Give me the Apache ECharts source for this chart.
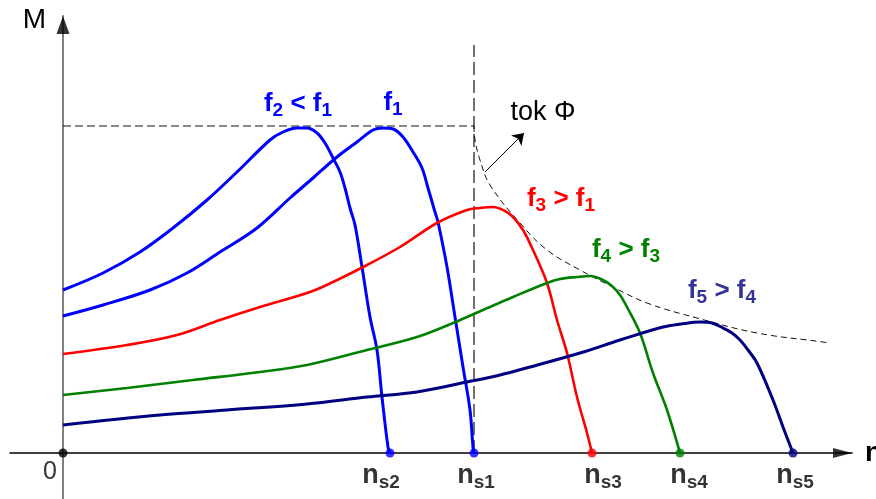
<!DOCTYPE html>
<html>
<head>
<meta charset="utf-8">
<script src="https://cdn.jsdelivr.net/npm/echarts@6/dist/echarts.min.js"></script>
<style>
  html, body { margin: 0; padding: 0; background: #fff; }
  #chart { width: 876px; height: 499px; }
</style>
</head>
<body>
<div id="chart"></div>
<script>
// Torque M versus speed n of an induction motor for several supply frequencies.
// Units are arbitrary; n along x, M along y.

// synchronous speeds: ns2, ns1, ns3, ns4, ns5
const nsValues = [327, 411, 529, 617, 730];
const nsSubs = ['s2', 's1', 's3', 's4', 's5'];
// where each caption sits on the speed axis ("0" first, then the n_s names)
const captionAt = [-13, 318, 413, 540, 626, 732];

const curveF2 = [[0,163],[40,180],[77,201],[110,225],[144,253],[174,281],[207,313],[220,321],[234,325],[244,325],[254,320],[262,310],[270,295],[277,281],[282,265],[287,245],[292,228],[299,186],[307,136],[314,103],[319,56],[325,6],[327,0]];
const curveF1 = [[0,137],[40,148],[87,163],[124,180],[157,201],[194,225],[227,255],[250,275],[274,296],[294,311],[310,323],[320,325],[330,324],[340,316],[350,301],[359,285],[365,265],[372,241],[375,231],[384,186],[392,136],[400,86],[407,43],[410,6],[411,0]];
const curveF3 = [[0,99],[64,108],[114,118],[157,133],[197,146],[247,161],[270,171],[304,188],[337,206],[374,230],[404,243],[417,245],[430,246],[442,242],[450,236],[460,223],[470,203],[484,170],[494,133],[504,100],[514,56],[524,20],[529,0]];
const curveF4 = [[0,58],[64,65],[130,73],[197,81],[244,88],[304,103],[354,116],[390,130],[420,143],[450,156],[484,170],[497,174],[514,176],[527,177],[540,173],[550,166],[557,158],[564,146],[577,120],[590,80],[604,43],[617,0]];
const curveF5 = [[0,28],[97,38],[164,43],[244,49],[304,56],[354,61],[404,71],[437,78],[467,86],[517,100],[557,113],[600,126],[618,129],[637,131],[649,130],[660,125],[669,120],[677,113],[685,103],[694,90],[710,53],[720,26],[730,0]];

// constant-flux torque limit above ns1 (field weakening)
const fluxLimit = [[411,327],[412,313],[417,293],[427,268],[457,230],[484,203],[517,183],[550,166],[584,150],[634,135],[694,120],[760,111],[765,110]];
const peakTorque = 327;
const syncLineTop = 408;
const fluxArrow = [[422,281],[461,320]];

const FONT = '"Liberation Sans", Arial, Helvetica, sans-serif';
const BLUE = '#0000ff', RED = '#ff0000', GREEN = '#008000', NAVY = '#000080', SLATE = '#333399';

function subRich(color, big, small, drop) {
  return {
    b: { fontFamily: FONT, fontWeight: 'bold', fontSize: big, color: color },
    s: { fontFamily: FONT, fontWeight: 'bold', fontSize: small, color: color, padding: [drop, 0, 0, 0] }
  };
}

function curve(name, data, color, width, text, offset) {
  return {
    name: name,
    type: 'line',
    data: data,
    smooth: 0.35,
    showSymbol: false,
    symbol: 'none',
    lineStyle: { color: color, width: width },
    z: 3,
    markPoint: {
      symbol: 'circle',
      symbolSize: 0,
      silent: true,
      data: [{ type: 'max', valueDim: 'y' }],
      label: {
        show: true,
        position: 'inside',
        offset: offset,
        formatter: text,
        rich: subRich(color === NAVY ? SLATE : color, 26, 19, 13)
      }
    }
  };
}

const chart = echarts.init(document.getElementById('chart'), null, { renderer: 'canvas' });

chart.setOption({
  animation: false,
  backgroundColor: '#fff',
  grid: { left: 10, right: 24, top: 16, bottom: 0, containLabel: false, outerBoundsMode: 'none' },
  xAxis: {
    type: 'value',
    min: -53,
    max: 789,
    axisLine: { onZero: true, lineStyle: { color: '#000', width: 1.5 } },
    axisTick: { show: false },
    splitLine: { show: false },
    axisLabel: { show: false },
    name: 'n',
    nameLocation: 'end',
    nameGap: 13,
    nameTextStyle: { fontFamily: FONT, fontWeight: 'bold', fontSize: 28, color: '#000', align: 'left', verticalAlign: 'middle' }
  },
  yAxis: {
    type: 'value',
    min: -46,
    max: 437,
    axisLine: { onZero: true, lineStyle: { color: '#808080', width: 2 } },
    axisTick: { show: false },
    axisLabel: { show: false },
    splitLine: { show: false },
    name: 'M',
    nameLocation: 'end',
    nameGap: -4,
    nameTextStyle: { fontFamily: FONT, fontSize: 28, color: '#000', align: 'right', verticalAlign: 'middle', padding: [0, 17, 0, 0] }
  },
  series: [
    {
      name: 'peak level',
      type: 'line',
      data: [[0, peakTorque], [nsValues[1], peakTorque]],
      symbol: 'none',
      lineStyle: { color: '#111', width: 1, type: [8, 4] },
      z: 1
    },
    {
      name: 'ns1 line',
      type: 'line',
      data: [[nsValues[1], 0], [nsValues[1], syncLineTop]],
      symbol: 'none',
      lineStyle: { color: '#111', width: 1.2, type: [13, 5] },
      z: 1
    },
    {
      name: 'flux limit',
      type: 'line',
      data: fluxLimit,
      smooth: 0.4,
      symbol: 'none',
      lineStyle: { color: '#111', width: 1, type: [6, 4] },
      z: 1,
      markLine: {
        silent: true,
        symbol: ['none', 'arrow'],
        symbolSize: 11,
        lineStyle: { color: '#000', width: 1, type: 'solid' },
        label: { show: false },
        data: [[{ coord: fluxArrow[0] }, { coord: fluxArrow[1] }]]
      },
      markPoint: {
        symbol: 'circle',
        symbolSize: 0,
        silent: true,
        data: [{ coord: fluxArrow[1] }],
        label: {
          show: true,
          position: 'inside',
          offset: [19, -20],
          formatter: 'tok \u03A6',
          fontFamily: FONT,
          fontSize: 27,
          color: '#000'
        }
      }
    },
    curve('f2', curveF2, BLUE, 3, '{b|f}{s|2}{b| < f}{s|1}', [1, -24]),
    curve('f1', curveF1, BLUE, 3, '{b|f}{s|1}', [10, -25]),
    curve('f3', curveF3, RED, 2.6, '{b|f}{s|3}{b| > f}{s|1}', [68, -8]),
    curve('f4', curveF4, GREEN, 2.6, '{b|f}{s|4}{b| > f}{s|3}', [36, -26]),
    curve('f5', curveF5, NAVY, 3, '{b|f}{s|5}{b| > f}{s|4}', [22, -31]),
    {
      name: 'synchronous points',
      type: 'scatter',
      symbol: 'circle',
      symbolSize: 9,
      z: 5,
      data: nsValues.map(function (v, i) {
        const c = [BLUE, BLUE, RED, GREEN, NAVY][i];
        return { value: [v, 0], itemStyle: { color: c } };
      })
    },
    {
      name: 'origin',
      type: 'scatter',
      symbol: 'circle',
      symbolSize: 9,
      z: 5,
      itemStyle: { color: '#000' },
      data: [[0, 0]]
    },
    {
      name: 'speed captions',
      type: 'scatter',
      symbolSize: 0,
      silent: true,
      z: 5,
      data: captionAt.map(function (x) { return [x, 0]; }),
      label: {
        show: true,
        position: 'bottom',
        distance: 7,
        formatter: function (p) {
          if (p.dataIndex === 0) return '{z|0}';
          return '{b|n}{s|' + nsSubs[p.dataIndex - 1] + '}';
        },
        rich: Object.assign(subRich('#000', 27, 19, 13), {
          z: { fontFamily: FONT, fontSize: 25, color: '#000' }
        })
      }
    },
    {
      name: 'axis arrows',
      type: 'scatter',
      z: 5,
      itemStyle: { color: '#000' },
      data: [
        { value: [0, 428], symbol: 'triangle', symbolSize: [13, 18] },
        { value: [779.5, 0], symbol: 'triangle', symbolSize: [10, 19], symbolRotate: -90 }
      ]
    }
  ]
});
</script>
</body>
</html>
